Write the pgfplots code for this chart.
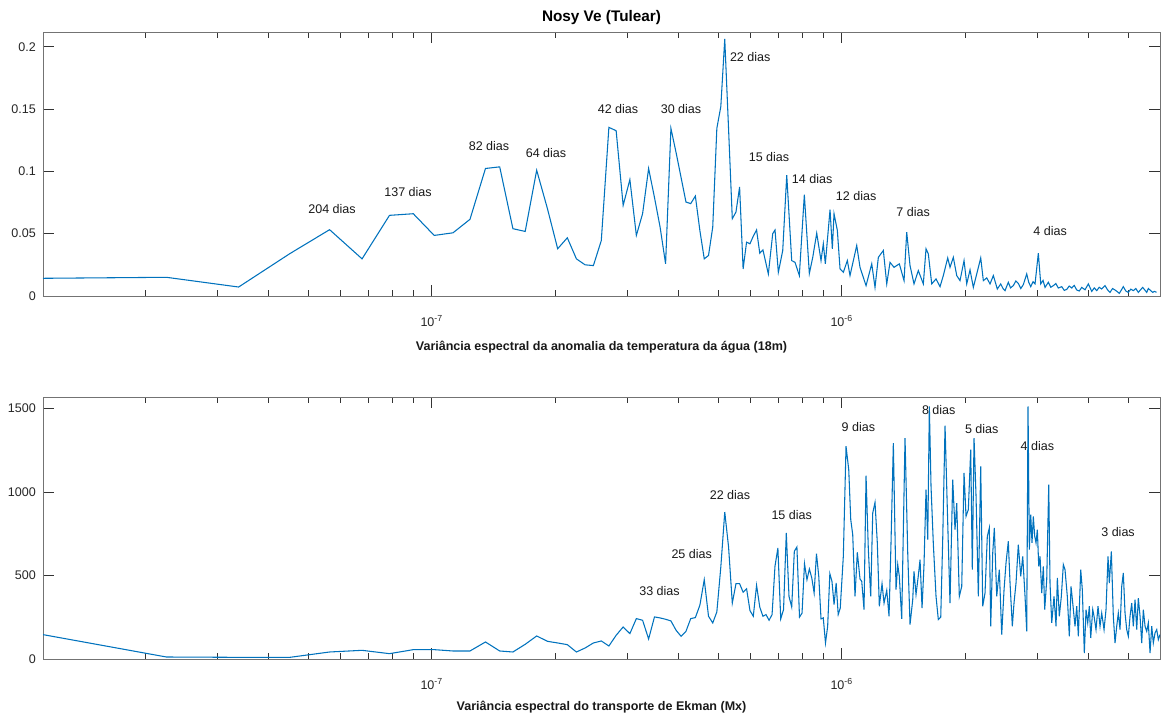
\documentclass[border=0pt]{standalone}
\usepackage{fontspec}
\setmainfont{Liberation Sans}
\usepackage{pgfplots}
\pgfplotsset{compat=1.18}
\definecolor{mline}{RGB}{0,114,189}

% x = log10(frequency / Hz)
\pgfplotsset{
  specax/.style={
    scale only axis, width=837.75pt,
    xmin=-7.9481, xmax=-5.2237, ymin=0,
    xtick={-7,-6}, xticklabels={10\textsuperscript{-7},10\textsuperscript{-6}},
    minor xtick={-7.699,-7.5229,-7.3979,-7.301,-7.2218,-7.1549,-7.0969,-7.0458,
                 -6.699,-6.5229,-6.3979,-6.301,-6.2218,-6.1549,-6.0969,-6.0458,
                 -5.699,-5.5229,-5.3979,-5.301},
    axis line style={black!55, line width=0.6pt},
    tick style={black!80, line width=0.6pt},
    major tick length=8.5pt, minor tick length=4.8pt,
    tick label style={font=\fontsize{9.4}{11}\selectfont, text=black!85, inner sep=0pt},
    xticklabel style={anchor=center, yshift=-19pt},
    yticklabel style={anchor=east, xshift=-5.25pt},
    label style={font=\bfseries\fontsize{9.4}{11}\selectfont, text=black!90},
    xlabel style={at={(axis description cs:0.5,0)}, anchor=center},
  }
}
\tikzset{
  ann/.style={font=\fontsize{9.4}{11}\selectfont, text=black!90},
  spec/.style={mline, line width=0.8pt, mark=none}
}

\begin{document}
\begin{tikzpicture}
\useasboundingbox (0,0) rectangle (871.5pt,538.5pt);

\begin{axis}[specax, at={(32.25pt,316.5pt)}, anchor=south west, height=198pt,
    ymax=0.2118, ytick={0,0.05,0.1,0.15,0.2}, yticklabels={0,0.05,0.1,0.15,0.2},
    title={Nosy Ve (Tulear)},
    title style={font=\bfseries\fontsize{11.5}{13}\selectfont, text=black, anchor=center, yshift=4.5pt},
    xlabel={Variância espectral da anomalia da temperatura da água (18m)},
    xlabel style={yshift=-38.25pt}]
\addplot[spec] coordinates {
(-7.9481,0.0142) (-7.6471,0.0150) (-7.4710,0.0072) (-7.3460,0.034) (-7.2491,0.0532)
(-7.1699,0.0298) (-7.1030,0.0647) (-7.0450,0.0660) (-6.9939,0.0486) (-6.9481,0.0507)
(-6.9067,0.0615) (-6.8689,0.1023) (-6.8342,0.1036) (-6.8020,0.0540) (-6.7720,0.0518)
(-6.7440,0.1009) (-6.7177,0.070) (-6.6928,0.0379) (-6.6693,0.0467) (-6.6471,0.0298)
(-6.6259,0.0250) (-6.6057,0.0244) (-6.5864,0.0445) (-6.5679,0.1353) (-6.5502,0.1326)
(-6.5331,0.0727) (-6.5167,0.0934) (-6.5009,0.0486) (-6.4857,0.0660) (-6.4710,0.1023)
(-6.4567,0.079) (-6.4430,0.0553) (-6.4296,0.0258) (-6.4166,0.1345) (-6.4040,0.115)
(-6.3918,0.095) (-6.3799,0.0754) (-6.3683,0.0741) (-6.3570,0.0802) (-6.3460,0.0526)
(-6.3353,0.0298) (-6.3249,0.0325) (-6.3146,0.0553) (-6.3046,0.1345) (-6.2949,0.152)
(-6.2853,0.2062) (-6.2760,0.134) (-6.2669,0.062) (-6.2579,0.0674) (-6.2491,0.0875)
(-6.2405,0.0217) (-6.2321,0.0432) (-6.2238,0.0419) (-6.2157,0.048) (-6.2077,0.053)
(-6.1999,0.0343) (-6.1922,0.037)
(-6.1790,0.0177) (-6.1683,0.050) (-6.1627,0.053) (-6.1546,0.019) (-6.1439,0.0365)
(-6.1341,0.097) (-6.1220,0.0284) (-6.1139,0.027) (-6.1034,0.0164) (-6.0912,0.0813)
(-6.0790,0.018) (-6.0707,0.031) (-6.0610,0.0504) (-6.0505,0.0284) (-6.0449,0.0419)
(-6.0400,0.0258) (-6.0285,0.0693) (-6.0229,0.0379) (-6.0188,0.066) (-6.0107,0.0526)
(-6.0041,0.0217) (-5.9961,0.019) (-5.9863,0.0284) (-5.9798,0.0164) (-5.9634,0.0405)
(-5.9554,0.023) (-5.9407,0.0083) (-5.9268,0.0258) (-5.9188,0.0069) (-5.9107,0.031)
(-5.8985,0.0365) (-5.8902,0.0097) (-5.8822,0.027) (-5.8724,0.023) (-5.8595,0.0258)
(-5.8480,0.0123) (-5.8415,0.0512) (-5.8334,0.0244) (-5.8237,0.0097) (-5.8132,0.0204)
(-5.8010,0.0097) (-5.7944,0.0379) (-5.7888,0.0338) (-5.7805,0.0097) (-5.7700,0.0137)
(-5.7602,0.0075) (-5.7522,0.0164) (-5.7415,0.0306) (-5.7359,0.023) (-5.7278,0.031)
(-5.7195,0.0164) (-5.7115,0.0123) (-5.7017,0.0284) (-5.6951,0.0097) (-5.6871,0.021)
(-5.6790,0.0069) (-5.6707,0.0177) (-5.6610,0.0306) (-5.6546,0.0123) (-5.6463,0.0145)
(-5.6383,0.0097) (-5.6302,0.0164) (-5.6205,0.0056) (-5.6122,0.0097) (-5.6066,0.0060)
(-5.6017,0.0043) (-5.5937,0.011) (-5.5883,0.0065) (-5.5815,0.0083) (-5.5754,0.0120)
(-5.5693,0.0101) (-5.5632,0.0060) (-5.5571,0.0091) (-5.5488,0.0177) (-5.5439,0.0110)
(-5.5390,0.0075) (-5.5334,0.0115) (-5.5285,0.0097) (-5.5205,0.0343) (-5.5146,0.0097)
(-5.5090,0.0125) (-5.5041,0.0069) (-5.4961,0.011) (-5.4900,0.0070) (-5.4839,0.0083)
(-5.4778,0.0100) (-5.4717,0.0064) (-5.4634,0.0075) (-5.4573,0.0045) (-5.4512,0.0053)
(-5.4451,0.0080) (-5.4390,0.0064) (-5.4329,0.0085) (-5.4268,0.0048) (-5.4207,0.0040)
(-5.4146,0.0069) (-5.4066,0.0050) (-5.3985,0.0097) (-5.3902,0.0037) (-5.3841,0.0065)
(-5.3780,0.0043) (-5.3720,0.0070) (-5.3659,0.0056) (-5.3578,0.0083) (-5.3517,0.0050)
(-5.3456,0.0029) (-5.3395,0.0060) (-5.3334,0.0048) (-5.3280,0.0035) (-5.3229,0.0021)
(-5.3132,0.0075) (-5.3071,0.0040) (-5.3010,0.0029) (-5.2949,0.0055) (-5.2888,0.0043)
(-5.2827,0.0060) (-5.2766,0.0029) (-5.2712,0.0050) (-5.2659,0.0069) (-5.2561,0.0029)
(-5.2522,0.0060) (-5.2480,0.0048) (-5.2415,0.0029) (-5.2376,0.0037) (-5.2322,0.0030)
};
\node[ann] at (axis cs:-7.2432,0.0695) {204 dias};
\node[ann] at (axis cs:-7.0578,0.0832) {137 dias};
\node[ann] at (axis cs:-6.8602,0.1203) {82 dias};
\node[ann] at (axis cs:-6.7212,0.1146) {64 dias};
\node[ann] at (axis cs:-6.5456,0.1501) {42 dias};
\node[ann] at (axis cs:-6.3920,0.1501) {30 dias};
\node[ann] at (axis cs:-6.2232,0.1919) {22 dias};
\node[ann] at (axis cs:-6.1773,0.1114) {15 dias};
\node[ann] at (axis cs:-6.0722,0.0937) {14 dias};
\node[ann] at (axis cs:-5.9649,0.0800) {12 dias};
\node[ann] at (axis cs:-5.8259,0.0671) {7 dias};
\node[ann] at (axis cs:-5.4917,0.0518) {4 dias};
\end{axis}

\begin{axis}[specax, at={(32.25pt,44.25pt)}, anchor=south west, height=196.5pt,
    ymax=1569, ytick={0,500,1000,1500}, yticklabels={0,500,1000,1500},
    xlabel={Variância espectral do transporte de Ekman (Mx)},
    xlabel style={yshift=-36pt}]
\addplot[spec] coordinates {
(-7.9481,146) (-7.6471,12) (-7.4710,10) (-7.3460,10) (-7.2491,42)
(-7.1699,52) (-7.1030,32) (-7.0450,56) (-6.9939,56) (-6.9481,48)
(-6.9067,48) (-6.8689,102) (-6.8342,48) (-6.8020,42) (-6.7720,88)
(-6.7440,138) (-6.7177,106) (-6.6928,96) (-6.6693,86) (-6.6471,42)
(-6.6259,66) (-6.6057,96) (-6.5864,108) (-6.5679,78) (-6.5502,142)
(-6.5331,192) (-6.5167,152) (-6.5009,242) (-6.4857,232) (-6.4710,120)
(-6.4567,252) (-6.4430,246) (-6.4296,238) (-6.4166,228) (-6.4040,172)
(-6.3918,136) (-6.3799,166) (-6.3683,242) (-6.3570,248) (-6.3460,322)
(-6.3353,475) (-6.3249,256) (-6.3146,216) (-6.3046,282) (-6.2949,551)
(-6.2853,880) (-6.2760,671) (-6.2669,335) (-6.2579,451) (-6.2491,451)
(-6.2405,400) (-6.2321,421) (-6.2238,290) (-6.2157,256) (-6.2077,441)
(-6.1999,311) (-6.1922,256) (-6.1847,266) (-6.1772,232) (-6.1699,266)
(-6.1628,555) (-6.1557,665) (-6.1488,240) (-6.1419,296) (-6.1352,755)
(-6.1286,375) (-6.1220,311) (-6.1156,645) (-6.1093,671) (-6.1030,251)
(-6.0968,275) (-6.0908,571) (-6.0848,475) (-6.0789,539) (-6.0730,485)
(-6.0673,395) (-6.0616,631) (-6.0560,495) (-6.0505,240) (-6.0450,246)
(-6.0396,96) (-6.0343,196) (-6.0290,511) (-6.0238,465) (-6.0187,326)
(-6.0136,455) (-6.0086,266) (-6.0036,305)
(-5.9961,615) (-5.9895,1274) (-5.9829,1134) (-5.9780,835) (-5.9732,745)
(-5.9676,375) (-5.9620,639) (-5.9554,479) (-5.9512,465) (-5.9456,296)
(-5.9407,1098) (-5.9351,655) (-5.9293,375) (-5.9244,874) (-5.9188,938)
(-5.9132,695) (-5.9083,316) (-5.9017,451) (-5.8968,335) (-5.8902,411)
(-5.8846,256) (-5.8798,695) (-5.8741,1293) (-5.8676,415) (-5.8634,565)
(-5.8595,495) (-5.8537,240) (-5.8456,1323) (-5.8390,635) (-5.8334,206)
(-5.8268,356) (-5.8237,525) (-5.8188,386) (-5.8132,499) (-5.8090,595)
(-5.8041,305) (-5.7993,565) (-5.7944,1014) (-5.7902,715) (-5.7863,1513)
(-5.7822,1034) (-5.7766,691) (-5.7700,375) (-5.7644,236) (-5.7585,251)
(-5.7537,715) (-5.7480,1398) (-5.7424,895) (-5.7359,335) (-5.7293,1074)
(-5.7237,775) (-5.7195,934) (-5.7132,375) (-5.7073,435) (-5.7017,1114)
(-5.6968,854) (-5.6912,895) (-5.6854,1254) (-5.6815,535) (-5.6773,1323)
(-5.6724,974) (-5.6668,375) (-5.6610,1154) (-5.6561,316) (-5.6505,395)
(-5.6449,735) (-5.6400,785) (-5.6366,196) (-5.6317,635) (-5.6278,785)
(-5.6220,375) (-5.6156,535) (-5.6098,146) (-5.6041,415) (-5.5993,575)
(-5.5937,705) (-5.5895,455) (-5.5839,196) (-5.5798,335) (-5.5749,455)
(-5.5693,685) (-5.5634,495) (-5.5585,615) (-5.5529,375) (-5.5488,166)
(-5.5456,1513) (-5.5424,655) (-5.5390,865) (-5.5359,695) (-5.5327,854)
(-5.5293,735) (-5.5261,695) (-5.5229,775) (-5.5195,555) (-5.5163,615)
(-5.5122,395) (-5.5083,555) (-5.5049,296) (-5.5000,475) (-5.4951,1044)
(-5.4920,455) (-5.4878,216) (-5.4822,375) (-5.4773,196) (-5.4741,485)
(-5.4693,256) (-5.4644,375) (-5.4595,565) (-5.4554,535) (-5.4498,375)
(-5.4449,136) (-5.4407,435) (-5.4366,335) (-5.4310,196) (-5.4268,316)
(-5.4229,136) (-5.4171,535) (-5.4132,415) (-5.4083,36) (-5.4041,296)
(-5.4000,216) (-5.3961,316) (-5.3927,126) (-5.3878,296) (-5.3846,256)
(-5.3798,176) (-5.3749,316) (-5.3700,196) (-5.3659,275) (-5.3602,176)
(-5.3554,296) (-5.3505,615) (-5.3473,455) (-5.3424,645) (-5.3376,256)
(-5.3334,96) (-5.3293,196) (-5.3254,275) (-5.3212,176) (-5.3171,435)
(-5.3132,515) (-5.3090,275) (-5.3049,176) (-5.3010,136) (-5.2968,256)
(-5.2927,335) (-5.2888,196) (-5.2846,355) (-5.2805,176) (-5.2766,365)
(-5.2724,256) (-5.2683,96) (-5.2644,296) (-5.2602,196) (-5.2561,166)
(-5.2522,216) (-5.2480,36) (-5.2439,196) (-5.2400,96) (-5.2359,156)
(-5.2317,176) (-5.2278,116) (-5.2237,146)
};
\node[ann] at (axis cs:-6.4444,407) {33 dias};
\node[ann] at (axis cs:-6.3659,627) {25 dias};
\node[ann] at (axis cs:-6.2724,984) {22 dias};
\node[ann] at (axis cs:-6.1220,865) {15 dias};
\node[ann] at (axis cs:-5.9595,1387) {9 dias};
\node[ann] at (axis cs:-5.7634,1493) {8 dias};
\node[ann] at (axis cs:-5.6585,1379) {5 dias};
\node[ann] at (axis cs:-5.5229,1274) {4 dias};
\node[ann] at (axis cs:-5.3261,759) {3 dias};
\end{axis}
\end{tikzpicture}
\end{document}
